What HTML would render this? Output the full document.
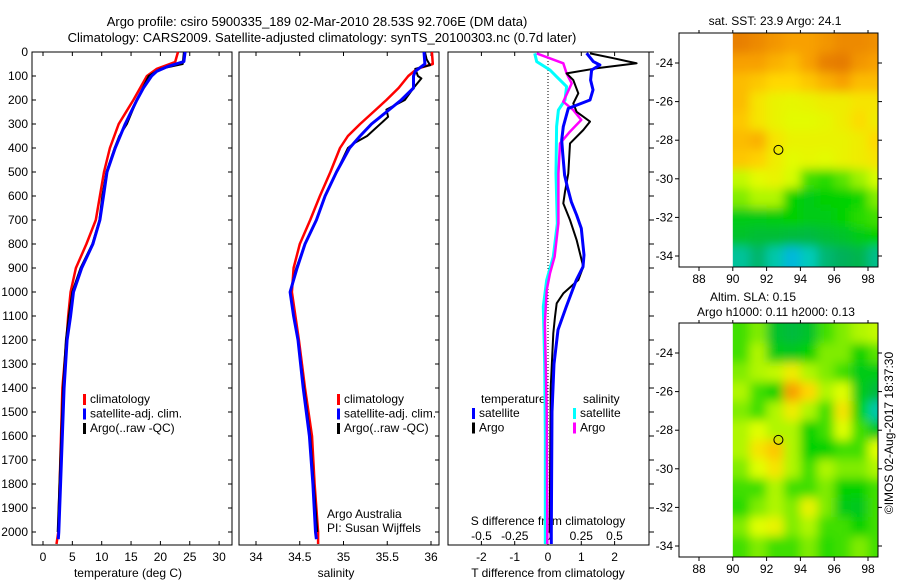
<!DOCTYPE html>
<html><head><meta charset="utf-8"><style>
body{margin:0;background:#fff;}
svg{display:block;font-family:"Liberation Sans",sans-serif;}
text{font-size:12px;fill:#000;}
</style></head><body>
<svg id="c" width="900" height="580" viewBox="0 0 900 580">
<defs><filter id="blur" x="-5%" y="-5%" width="110%" height="110%"><feGaussianBlur stdDeviation="5"/></filter></defs>
</svg>
<script>
// ---------- data ----------
const tDepthRed=[0,42,70,100,200,300,400,500,600,700,800,900,1000,1100,1200,1400,2000,2050];
const tempClim=[23.0,22.5,19.4,17.7,15.4,12.9,11.4,10.4,9.7,9.0,7.4,5.6,4.7,4.3,4.0,3.3,2.6,2.3];
const tDepthBlue=[0,40,60,80,100,150,200,300,400,500,600,700,800,900,1000,1100,1200,1400,2000,2030];
const tempSat=[24.2,24.0,21.3,19.4,18.5,17.1,16.0,14.0,12.3,10.9,10.3,9.7,8.5,6.6,5.2,4.7,4.1,3.6,2.7,2.6];
const tDepthArgo=[0,50,70,100,200,270,300,350,400,500,600,700,800,900,1000,1100,1200,1400,2000];
const tempArgo=[24.0,23.8,20.0,18.0,16.0,14.8,14.3,13.0,12.2,10.8,10.1,9.6,8.4,6.4,5.0,4.4,3.9,3.4,2.5];

const sDepthRed=[0,50,70,100,150,200,250,300,350,400,500,600,700,800,900,1000,1100,1200,1400,1600,1800,2000,2050];
const salClim=[36.01,36.02,35.84,35.74,35.63,35.49,35.34,35.19,35.05,34.96,34.85,34.73,34.62,34.50,34.43,34.41,34.45,34.49,34.56,34.64,34.67,34.71,34.71];
const sDepthBlue=[0,50,80,100,150,200,250,300,350,400,500,600,700,800,900,1000,1100,1200,1400,1600,1800,2000,2030];
const salSat=[35.92,35.93,35.82,35.80,35.80,35.66,35.49,35.32,35.19,35.07,34.92,34.79,34.69,34.56,34.47,34.39,34.43,34.48,34.54,34.61,34.65,34.68,34.69];
const sDepthArgo=[0,30,55,70,100,110,150,200,240,270,290,350,380,400,500,600,700,800,900,1000,1100,1200,1400,1600,1800,2000];
const salArgo=[35.93,35.95,35.99,35.82,35.85,35.89,35.80,35.70,35.49,35.51,35.45,35.27,35.12,35.05,34.92,34.79,34.69,34.56,34.46,34.39,34.43,34.48,34.55,34.62,34.66,34.70];

const dDepthTSat=[5,40,54,75,117,158,200,214,235,311,367,422,513,561,624,679,735,846,895,950,1061,1158,1300,1500,2000,2050];
const tDiffSat=[1.16,1.36,1.56,1.31,1.28,1.35,1.26,1.0,0.61,0.46,0.41,0.44,0.5,0.58,0.7,0.86,1.0,1.08,1.05,0.85,0.55,0.3,0.18,0.12,0.1,0.1];
const dDepthTArgo=[6,26,47,68,89,117,172,214,249,290,325,381,506,582,631,700,783,895,950,1006,1047,1103,1172,1400,2000];
const tDiffArgo=[1.26,1.96,2.66,1.46,0.56,0.76,0.91,0.76,0.86,1.26,1.06,0.66,0.61,0.51,0.46,0.66,0.86,1.06,0.91,0.46,0.26,0.21,0.16,0.08,0.05];
const dDepthSSat=[6,40,75,103,144,200,242,311,506,714,853,950,1061,1300,1600,2000,2050];
const sDiffSat=[-0.1,-0.085,0.015,0.065,0.14,0.128,0.078,0.065,0.06,0.07,0.04,-0.01,-0.035,-0.025,-0.02,-0.02,-0.02];
const dDepthSArgo=[6,47,89,131,207,242,283,332,381,506,714,853,922,992,1131,1500,2000,2050];
const sDiffArgo=[-0.085,0.115,0.14,0.178,0.115,0.19,0.25,0.165,0.09,0.078,0.078,0.05,0.015,-0.01,-0.023,-0.01,-0.005,-0.005];

const depthTicks=[0,100,200,300,400,500,600,700,800,900,1000,1100,1200,1300,1400,1500,1600,1700,1800,1900,2000];
const tempTicks=[0,5,10,15,20,25,30];
const salTicks=[34,34.5,35,35.5,36];
const salTickLabels=["34","34.5","35","35.5","36"];
const tdTicks=[-2,-1,0,1,2];
const sdTicks=[-0.5,-0.25,0,0.25,0.5];
const sdTickLabels=["-0.5","-0.25","0","0.25","0.5"];
const latTicks=[-24,-26,-28,-30,-32,-34];
const lonTicks=[88,90,92,94,96,98];

const sstGrid=[
[0.95,0.92,0.88,0.85,0.85,0.88,0.92,0.92,0.9],
[0.85,0.85,0.82,0.8,0.85,0.95,0.97,0.88,0.85],
[0.8,0.78,0.75,0.75,0.78,0.82,0.85,0.8,0.8],
[0.8,0.72,0.68,0.67,0.68,0.7,0.7,0.72,0.72],
[0.78,0.72,0.68,0.66,0.66,0.67,0.7,0.74,0.7],
[0.8,0.82,0.72,0.68,0.68,0.68,0.68,0.7,0.75],
[0.78,0.76,0.7,0.66,0.67,0.66,0.68,0.7,0.72],
[0.62,0.66,0.68,0.64,0.5,0.48,0.52,0.58,0.64],
[0.55,0.6,0.6,0.45,0.42,0.44,0.45,0.46,0.55],
[0.42,0.42,0.43,0.44,0.42,0.42,0.45,0.48,0.5],
[0.38,0.36,0.36,0.35,0.34,0.36,0.38,0.42,0.44],
[0.22,0.28,0.2,0.12,0.18,0.27,0.3,0.32,0.24]];
const slaGrid=[
[0.5,0.55,0.38,0.35,0.38,0.5,0.55,0.6,0.62],
[0.5,0.6,0.42,0.4,0.45,0.55,0.55,0.45,0.52],
[0.55,0.6,0.62,0.7,0.6,0.55,0.5,0.42,0.42],
[0.6,0.5,0.45,0.85,0.75,0.6,0.65,0.42,0.35],
[0.55,0.5,0.6,0.7,0.6,0.5,0.72,0.45,0.2],
[0.6,0.65,0.6,0.6,0.45,0.5,0.65,0.5,0.4],
[0.6,0.72,0.78,0.6,0.45,0.45,0.5,0.5,0.65],
[0.55,0.65,0.72,0.6,0.5,0.6,0.55,0.55,0.6],
[0.5,0.5,0.6,0.5,0.5,0.55,0.45,0.45,0.5],
[0.48,0.55,0.6,0.55,0.68,0.55,0.42,0.4,0.5],
[0.55,0.65,0.68,0.55,0.6,0.5,0.5,0.45,0.5],
[0.5,0.55,0.5,0.5,0.55,0.48,0.5,0.55,0.5]];
const floatLon=92.7, floatLat=-28.5;

// ---------- helpers ----------
const svg=document.getElementById('c');
const NS='http://www.w3.org/2000/svg';
function mk(tag,attrs,parent){const e=document.createElementNS(NS,tag);for(const k in attrs)e.setAttribute(k,attrs[k]);(parent||svg).appendChild(e);return e;}
function txt(x,y,s,anchor,parent){const t=mk('text',{x:x,y:y,'text-anchor':anchor||'start'},parent);t.textContent=s;return t;}
const yD=d=>52+d*0.24;
const BOT=545;

function pts(xs,ds,fx){return xs.map((v,i)=>fx(v).toFixed(1)+','+yD(ds[i]).toFixed(1)).join(' ');}
function line(xs,ds,fx,color,w,name){const l=mk('polyline',{points:pts(xs,ds,fx),fill:'none',stroke:color,'stroke-width':w,'stroke-linejoin':'round'});

}

let g=mk('g',{});


let t1=txt(317,26,'Argo profile: csiro 5900335_189 02-Mar-2010 28.53S 92.706E (DM data)','middle',g);t1.style.fontSize='13px';
let t2=txt(322,42,'Climatology: CARS2009. Satellite-adjusted climatology: synTS_20100303.nc (0.7d later)','middle',g);t2.style.fontSize='13px';

// ---------- panel 1 ----------
const xT=v=>43+v*5.87;
let p1=mk('g',{});


mk('rect',{x:32,y:52,width:200,height:BOT-52,fill:'none',stroke:'#000','stroke-width':1},p1);
depthTicks.forEach(d=>{mk('line',{x1:32,y1:yD(d),x2:36,y2:yD(d),stroke:'#000'},p1);mk('line',{x1:232,y1:yD(d),x2:228,y2:yD(d),stroke:'#000'},p1);
 const l=txt(28,yD(d)+4,String(d),'end',p1);});
tempTicks.forEach(v=>{mk('line',{x1:xT(v),y1:52,x2:xT(v),y2:56,stroke:'#000'},p1);mk('line',{x1:xT(v),y1:BOT,x2:xT(v),y2:BOT-4,stroke:'#000'},p1);txt(xT(v),561,String(v),'middle',p1);});
let xt1=txt(128,577,'temperature (deg C)','middle',p1);
line(tempClim,tDepthRed,xT,'#f00',2.5,'temp-climatology-line');
line(tempArgo,tDepthArgo,xT,'#000',2,'temp-argo-line');
line(tempSat,tDepthBlue,xT,'#00f',3,'temp-satellite-line');
function legend(x,y,items,parent,name){const lg=mk('g',{},parent);
 items.forEach((it,i)=>{mk('rect',{x:x,y:y+i*14.5-9,width:3,height:11,fill:it[0]},lg);txt(x+7,y+i*14.5,it[1],'start',lg);});}
legend(83,403,[['#f00','climatology'],['#00f','satellite-adj. clim.'],['#000','Argo(..raw -QC)']],p1,'temperature-legend');

// ---------- panel 2 ----------
const xS=v=>256+(v-34)*87.5;
let p2=mk('g',{});


mk('rect',{x:239,y:52,width:200,height:BOT-52,fill:'none',stroke:'#000'},p2);
depthTicks.forEach(d=>{mk('line',{x1:439,y1:yD(d),x2:435,y2:yD(d),stroke:'#000'},p2);});
salTicks.forEach((v,i)=>{mk('line',{x1:xS(v),y1:52,x2:xS(v),y2:56,stroke:'#000'},p2);mk('line',{x1:xS(v),y1:BOT,x2:xS(v),y2:BOT-4,stroke:'#000'},p2);txt(xS(v),561,salTickLabels[i],'middle',p2);});
let xt2=txt(336,577,'salinity','middle',p2);
line(salClim,sDepthRed,xS,'#f00',2.5,'sal-climatology-line');
line(salArgo,sDepthArgo,xS,'#000',2,'sal-argo-line');
line(salSat,sDepthBlue,xS,'#00f',3,'sal-satellite-line');
legend(337,403,[['#f00','climatology'],['#00f','satellite-adj. clim.'],['#000','Argo(..raw -QC)']],p2,'salinity-legend');
let cr=mk('g',{},p2);
txt(327,518,'Argo Australia','start',cr);txt(327,532,'PI: Susan Wijffels','start',cr);

// ---------- panel 3 ----------
const xTD=v=>548+v*33.3;
const xSD=v=>548+v*133;
let p3=mk('g',{});


mk('rect',{x:448,y:52,width:201,height:BOT-52,fill:'none',stroke:'#000'},p3);
mk('line',{x1:548,y1:52,x2:548,y2:BOT,stroke:'#000','stroke-dasharray':'1,2'},p3);
depthTicks.forEach(d=>{mk('line',{x1:649,y1:yD(d),x2:654,y2:yD(d),stroke:'#000'},p3);});
tdTicks.forEach(v=>{mk('line',{x1:xTD(v),y1:52,x2:xTD(v),y2:56,stroke:'#000'},p3);mk('line',{x1:xTD(v),y1:BOT,x2:xTD(v),y2:BOT-4,stroke:'#000'},p3);txt(xTD(v),561,String(v),'middle',p3);});
line(sDiffSat,dDepthSSat,xSD,'#0ff',3,'sdiff-satellite-line');
line(sDiffArgo,dDepthSArgo,xSD,'#f0f',2.5,'sdiff-argo-line');
line(tDiffArgo,dDepthTArgo,xTD,'#000',2,'tdiff-argo-line');
line(tDiffSat,dDepthTSat,xTD,'#00f',3,'tdiff-satellite-line');
sdTicks.forEach((v,i)=>{txt(xSD(v),540,sdTickLabels[i],'middle',p3);});
let s3=txt(548,525,'S difference from climatology','middle',p3);
let x3=txt(548,577,'T difference from climatology','middle',p3);
let l3=mk('g',{},p3);
txt(481,403,'temperature','start',l3);txt(583,403,'salinity','start',l3);
legend(472,417,[['#00f','satellite'],['#000','Argo']],l3,'temp-diff-legend');
legend(573,417,[['#0ff','satellite'],['#f0f','Argo']],l3,'sal-diff-legend');

// ---------- maps ----------
const stops=[[0,[0,80,255]],[0.15,[0,210,210]],[0.3,[0,176,90]],[0.45,[0,210,0]],[0.55,[128,236,0]],[0.65,[224,255,0]],[0.75,[255,216,0]],[0.85,[248,160,0]],[1,[224,112,0]]];
function cmap(v){v=Math.max(0,Math.min(1,v));for(let i=1;i<stops.length;i++){if(v<=stops[i][0]){const a=stops[i-1],b=stops[i],f=(v-a[0])/(b[0]-a[0]);const c=a[1].map((x,j)=>Math.round(x+(b[1][j]-x)*f));return 'rgb('+c.join(',')+')';}}return 'rgb(224,112,0)';}
function drawMap(top,grid,name,titles){
 const L=679,R=878,B=top+234;
 const xL=lon=>699+(lon-88)*16.9;
 const yL=lat=>top+30+(-24-lat)*19.3;
 const m=mk('g',{});
 const cid='clip'+top;const cp=mk('clipPath',{id:cid},m);mk('rect',{x:xL(90),y:top,width:R-xL(90),height:B-top},cp);
 const outer=mk('g',{'clip-path':'url(#'+cid+')'},m);
 const cg=mk('g',{filter:'url(#blur)'},outer);
 const nr=grid.length,nc=grid[0].length;
 grid.forEach((row,r)=>row.forEach((v,c)=>{const lat=-22.5-r,lon=90+c;
   let x=xL(lon),y=yL(lat),w=17.5,h=20;
   if(c===0){x-=15;w+=15;} if(c===nc-1){w+=15;} if(r===0){y-=15;h+=15;} if(r===nr-1){h+=15;}
   const cell=mk('rect',{x:x,y:y,width:w,height:h,fill:cmap(v)},cg);
   
   }));
 mk('rect',{x:L,y:top,width:R-L,height:B-top,fill:'none',stroke:'#000'},m);
 latTicks.forEach(la=>{mk('line',{x1:L,y1:yL(la),x2:L-4,y2:yL(la),stroke:'#000'},m);mk('line',{x1:R,y1:yL(la),x2:R+4,y2:yL(la),stroke:'#000'},m);txt(L-6,yL(la)+4,String(la),'end',m);});
 lonTicks.forEach(lo=>{mk('line',{x1:xL(lo),y1:B,x2:xL(lo),y2:B+4,stroke:'#000'},m);mk('line',{x1:xL(lo),y1:top,x2:xL(lo),y2:top-3,stroke:'#000'},m);txt(xL(lo),B+16,String(lo),'middle',m);});
 const fc=mk('circle',{cx:xL(floatLon),cy:yL(floatLat),r:4.5,fill:'none',stroke:'#000','stroke-width':1},m);
 
 
 titles.forEach(t=>txt(t[0],t[1],t[2],'middle',m));
}
drawMap(33,sstGrid,'sst-map',[[775,25,'sat. SST: 23.9 Argo: 24.1']]);
drawMap(323,slaGrid,'sla-map',[[753,301,'Altim. SLA: 0.15'],[776,316,'Argo h1000: 0.11 h2000: 0.13']]);
let cpy=txt(0,0,'©IMOS 02-Aug-2017 18:37:30','middle');
cpy.setAttribute('transform','translate(893,433) rotate(-90)');


</script>
</body></html>
